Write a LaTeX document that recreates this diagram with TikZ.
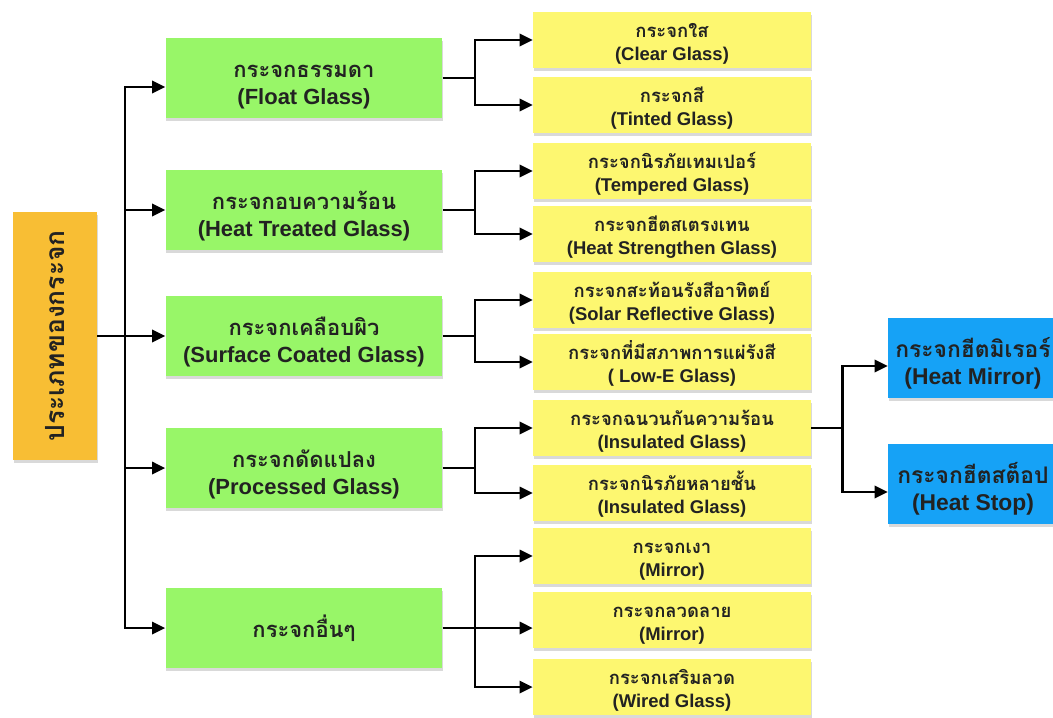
\documentclass[tikz,border=0pt]{standalone}
\usepackage{fontspec}
\usepackage{graphicx}
\setmainfont{Liberation Sans}
\newfontfamily\thaifont[Script=Thai]{Loma}
\usetikzlibrary{arrows.meta, positioning, shadows}

\definecolor{rootorange}{RGB}{248,190,52}
\definecolor{maingreen}{RGB}{152,246,104}
\definecolor{subyellow}{RGB}{253,247,112}
\definecolor{leafblue}{RGB}{22,162,246}
\definecolor{inktext}{RGB}{34,34,34}

% Thai line over English line; \toppad sets how low the pair sits
\newlength\toppad
\newcommand{\glasslabel}[2]{\rule{0pt}{\toppad}\smash{\thaifont #1}\\#2}

\begin{document}
\begin{tikzpicture}[
    x=0.02cm, y=-0.02cm,
    box/.style={rectangle, align=center, inner sep=2pt, text=inktext, font=\bfseries,
        drop shadow={shadow xshift=0.4pt, shadow yshift=-1.8pt, opacity=0.3}},
    rootbox/.style={box, fill=rootorange, minimum width=1.68cm, minimum height=4.96cm,
        font=\bfseries\fontsize{15}{18}\selectfont},
    mainbox/.style={box, fill=maingreen, minimum width=5.54cm, minimum height=1.6cm,
        font=\bfseries\fontsize{12.5}{15.8}\selectfont\setlength\toppad{17.5pt}},
    subbox/.style={box, fill=subyellow, minimum width=5.56cm, minimum height=1.1cm,
        font=\bfseries\fontsize{10.5}{13}\selectfont\setlength\toppad{12.5pt}},
    leafbox/.style={box, fill=leafblue, minimum width=3.4cm, minimum height=1.6cm,
        font=\bfseries\fontsize{13}{15.5}\selectfont\setlength\toppad{17.5pt}},
    link/.style={line width=1.4pt, line join=miter},
    arrow/.style={link, -{Triangle[length=7.5pt, width=7pt]}}
]
\useasboundingbox (0,0) rectangle (1053,717);

% Root
\node[rootbox] (root) at (55,336) {\rotatebox{90}{\thaifont ประเภทของกระจก}};

% Main groups
\node[mainbox] (float) at (304,78) {\glasslabel{กระจกธรรมดา}{(Float Glass)}};
\node[mainbox] (heat) at (304,210) {\glasslabel{กระจกอบความร้อน}{(Heat Treated Glass)}};
\node[mainbox] (surface) at (304,336) {\glasslabel{กระจกเคลือบผิว}{(Surface Coated Glass)}};
\node[mainbox] (processed) at (304,468) {\glasslabel{กระจกดัดแปลง}{(Processed Glass)}};
\node[mainbox] (other) at (304,628) {\raisebox{-2pt}{\thaifont กระจกอื่นๆ}};

% Sub types
\node[subbox] (clear) at (672,40) {\glasslabel{กระจกใส}{(Clear Glass)}};
\node[subbox] (tinted) at (672,105) {\glasslabel{กระจกสี}{(Tinted Glass)}};
\node[subbox] (tempered) at (672,171) {\glasslabel{กระจกนิรภัยเทมเปอร์}{(Tempered Glass)}};
\node[subbox] (strengthen) at (672,234) {\glasslabel{กระจกฮีตสเตรงเทน}{(Heat Strengthen Glass)}};
\node[subbox] (solar) at (672,300) {\glasslabel{กระจกสะท้อนรังสีอาทิตย์}{(Solar Reflective Glass)}};
\node[subbox] (lowe) at (672,362) {\glasslabel{กระจกที่มีสภาพการแผ่รังสี}{( Low-E Glass)}};
\node[subbox] (insulated) at (672,428) {\glasslabel{กระจกฉนวนกันความร้อน}{(Insulated Glass)}};
\node[subbox] (laminated) at (672,493) {\glasslabel{กระจกนิรภัยหลายชั้น}{(Insulated Glass)}};
\node[subbox] (mirror) at (672,556) {\glasslabel{กระจกเงา}{(Mirror)}};
\node[subbox] (pattern) at (672,620) {\glasslabel{กระจกลวดลาย}{(Mirror)}};
\node[subbox] (wired) at (672,687) {\glasslabel{กระจกเสริมลวด}{(Wired Glass)}};

% Insulated glass kinds
\node[leafbox] (hmirror) at (973,358) {\glasslabel{กระจกฮีตมิเรอร์}{(Heat Mirror)}};
\node[leafbox] (hstop) at (973,484) {\glasslabel{กระจกฮีตสต็อป}{(Heat Stop)}};

% Root to main groups
\coordinate (trunk) at (125,336);
\draw[link] (root.east) -- (trunk);
\draw[arrow] (trunk) |- ([yshift=-0.18cm]float.west);
\foreach \g in {heat,surface,processed,other}
    \draw[arrow] (trunk) |- (\g.west);

% Main groups to sub types
\draw[arrow] (float.east) -- ++(32,0) |- (clear.west);
\draw[arrow] (float.east) -- ++(32,0) |- (tinted.west);
\draw[arrow] (heat.east) -- ++(32,0) |- (tempered.west);
\draw[arrow] (heat.east) -- ++(32,0) |- (strengthen.west);
\draw[arrow] (surface.east) -- ++(32,0) |- (solar.west);
\draw[arrow] (surface.east) -- ++(32,0) |- (lowe.west);
\draw[arrow] (processed.east) -- ++(32,0) |- (insulated.west);
\draw[arrow] (processed.east) -- ++(32,0) |- (laminated.west);
\draw[arrow] (other.east) -- ++(32,0) |- (mirror.west);
\draw[arrow] (other.east) -- (other.east -| pattern.west);
\draw[arrow] (other.east) -- ++(32,0) |- (wired.west);

% Insulated to heat mirror / heat stop
\draw[arrow] (insulated.east) -- ++(31,0) |- ([yshift=-0.16cm]hmirror.west);
\draw[arrow] (insulated.east) -- ++(31,0) |- ([yshift=-0.16cm]hstop.west);

\end{tikzpicture}
\end{document}
